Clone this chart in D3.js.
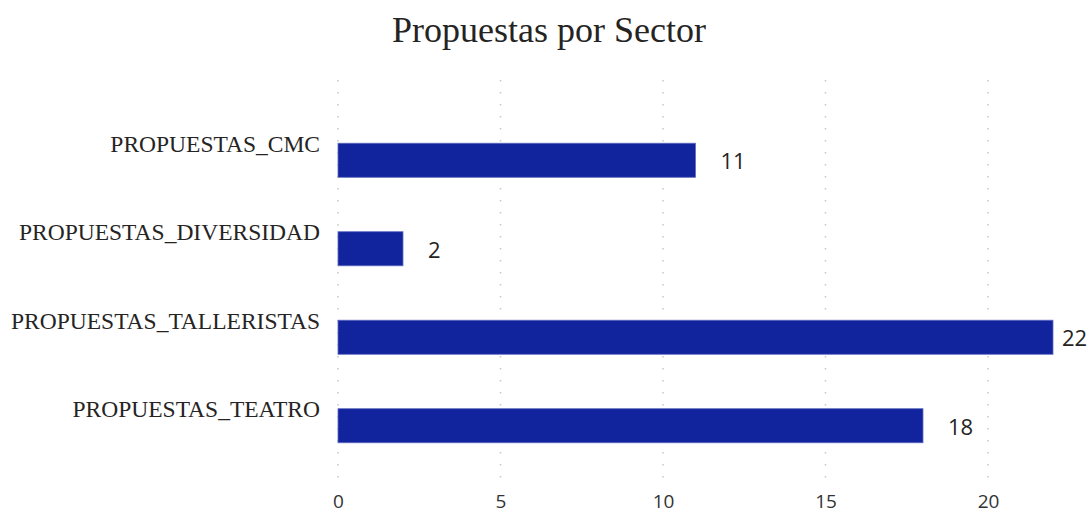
<!DOCTYPE html>
<html>
<head>
<meta charset="utf-8">
<script src="https://cdn.jsdelivr.net/npm/d3@7"></script>
<style>
  body { margin: 0; background: #fff; }
  svg { display: block; }
</style>
</head>
<body>
<svg id="chart" width="1090" height="512"></svg>
<script>
// data
const sectors = ["PROPUESTAS_CMC", "PROPUESTAS_DIVERSIDAD", "PROPUESTAS_TALLERISTAS", "PROPUESTAS_TEATRO"];
const counts = [11, 2, 22, 18];
const xTicks = [0, 5, 10, 15, 20];

const W = 1090, H = 512;
const svg = d3.select('#chart');

const x = d3.scaleLinear().domain([0, 20]).range([338, 988]);
const y = d3.scaleBand().domain(sectors).range([116, 470]).paddingInner(0.615).paddingOuter(0.3077);

// title
svg.append('text')
    .attr('x', 549).attr('y', 42)
    .attr('text-anchor', 'middle')
    .style('font-family', '"Liberation Serif", serif')
    .style('font-size', '36px')
    .attr('fill', '#252423')
    .text('Propuestas por Sector');

// dotted gridlines
svg.append('g').selectAll('line')
    .data(xTicks)
    .join('line')
    .attr('x1', d => x(d)).attr('x2', d => x(d))
    .attr('y1', 80).attr('y2', 484)
    .attr('stroke', '#c8c8c8')
    .attr('stroke-width', 1.5)
    .attr('stroke-dasharray', '1.5,10.5');

// x axis tick labels
const xAxis = d3.axisBottom(x).tickValues(xTicks).tickSize(0).tickPadding(0);
const gx = svg.append('g').attr('transform', 'translate(0,494)').call(xAxis);
gx.select('.domain').remove();
gx.selectAll('text')
    .style('font-family', '"Open Sans", sans-serif')
    .style('font-size', '19px')
    .attr('fill', '#333');

// y axis category labels
const yAxis = d3.axisLeft(y).tickSize(0).tickPadding(18);
const gy = svg.append('g').attr('transform', 'translate(338,-16)').call(yAxis);
gy.select('.domain').remove();
gy.selectAll('text')
    .style('font-family', '"Liberation Serif", serif')
    .style('font-size', '23.5px')
    .attr('fill', '#252423');

// bars
svg.append('g').selectAll('rect')
    .data(sectors)
    .join('rect')
    .attr('x', x(0))
    .attr('y', d => y(d))
    .attr('width', (d, i) => x(counts[i]) - x(0))
    .attr('height', y.bandwidth())
    .attr('fill', '#12239e')
    .attr('stroke', '#5e6bc0')
    .attr('stroke-width', 0.8);

// value labels
svg.append('g').selectAll('text')
    .data(sectors)
    .join('text')
    .attr('x', (d, i) => Math.min(x(counts[i]) + 25, 1062))
    .attr('y', d => y(d) + y.bandwidth() / 2 + 9)
    .style('font-family', '"Open Sans", sans-serif')
    .style('font-size', '22px')
    .attr('fill', '#252423')
    .text((d, i) => counts[i]);
</script>
</body>
</html>
